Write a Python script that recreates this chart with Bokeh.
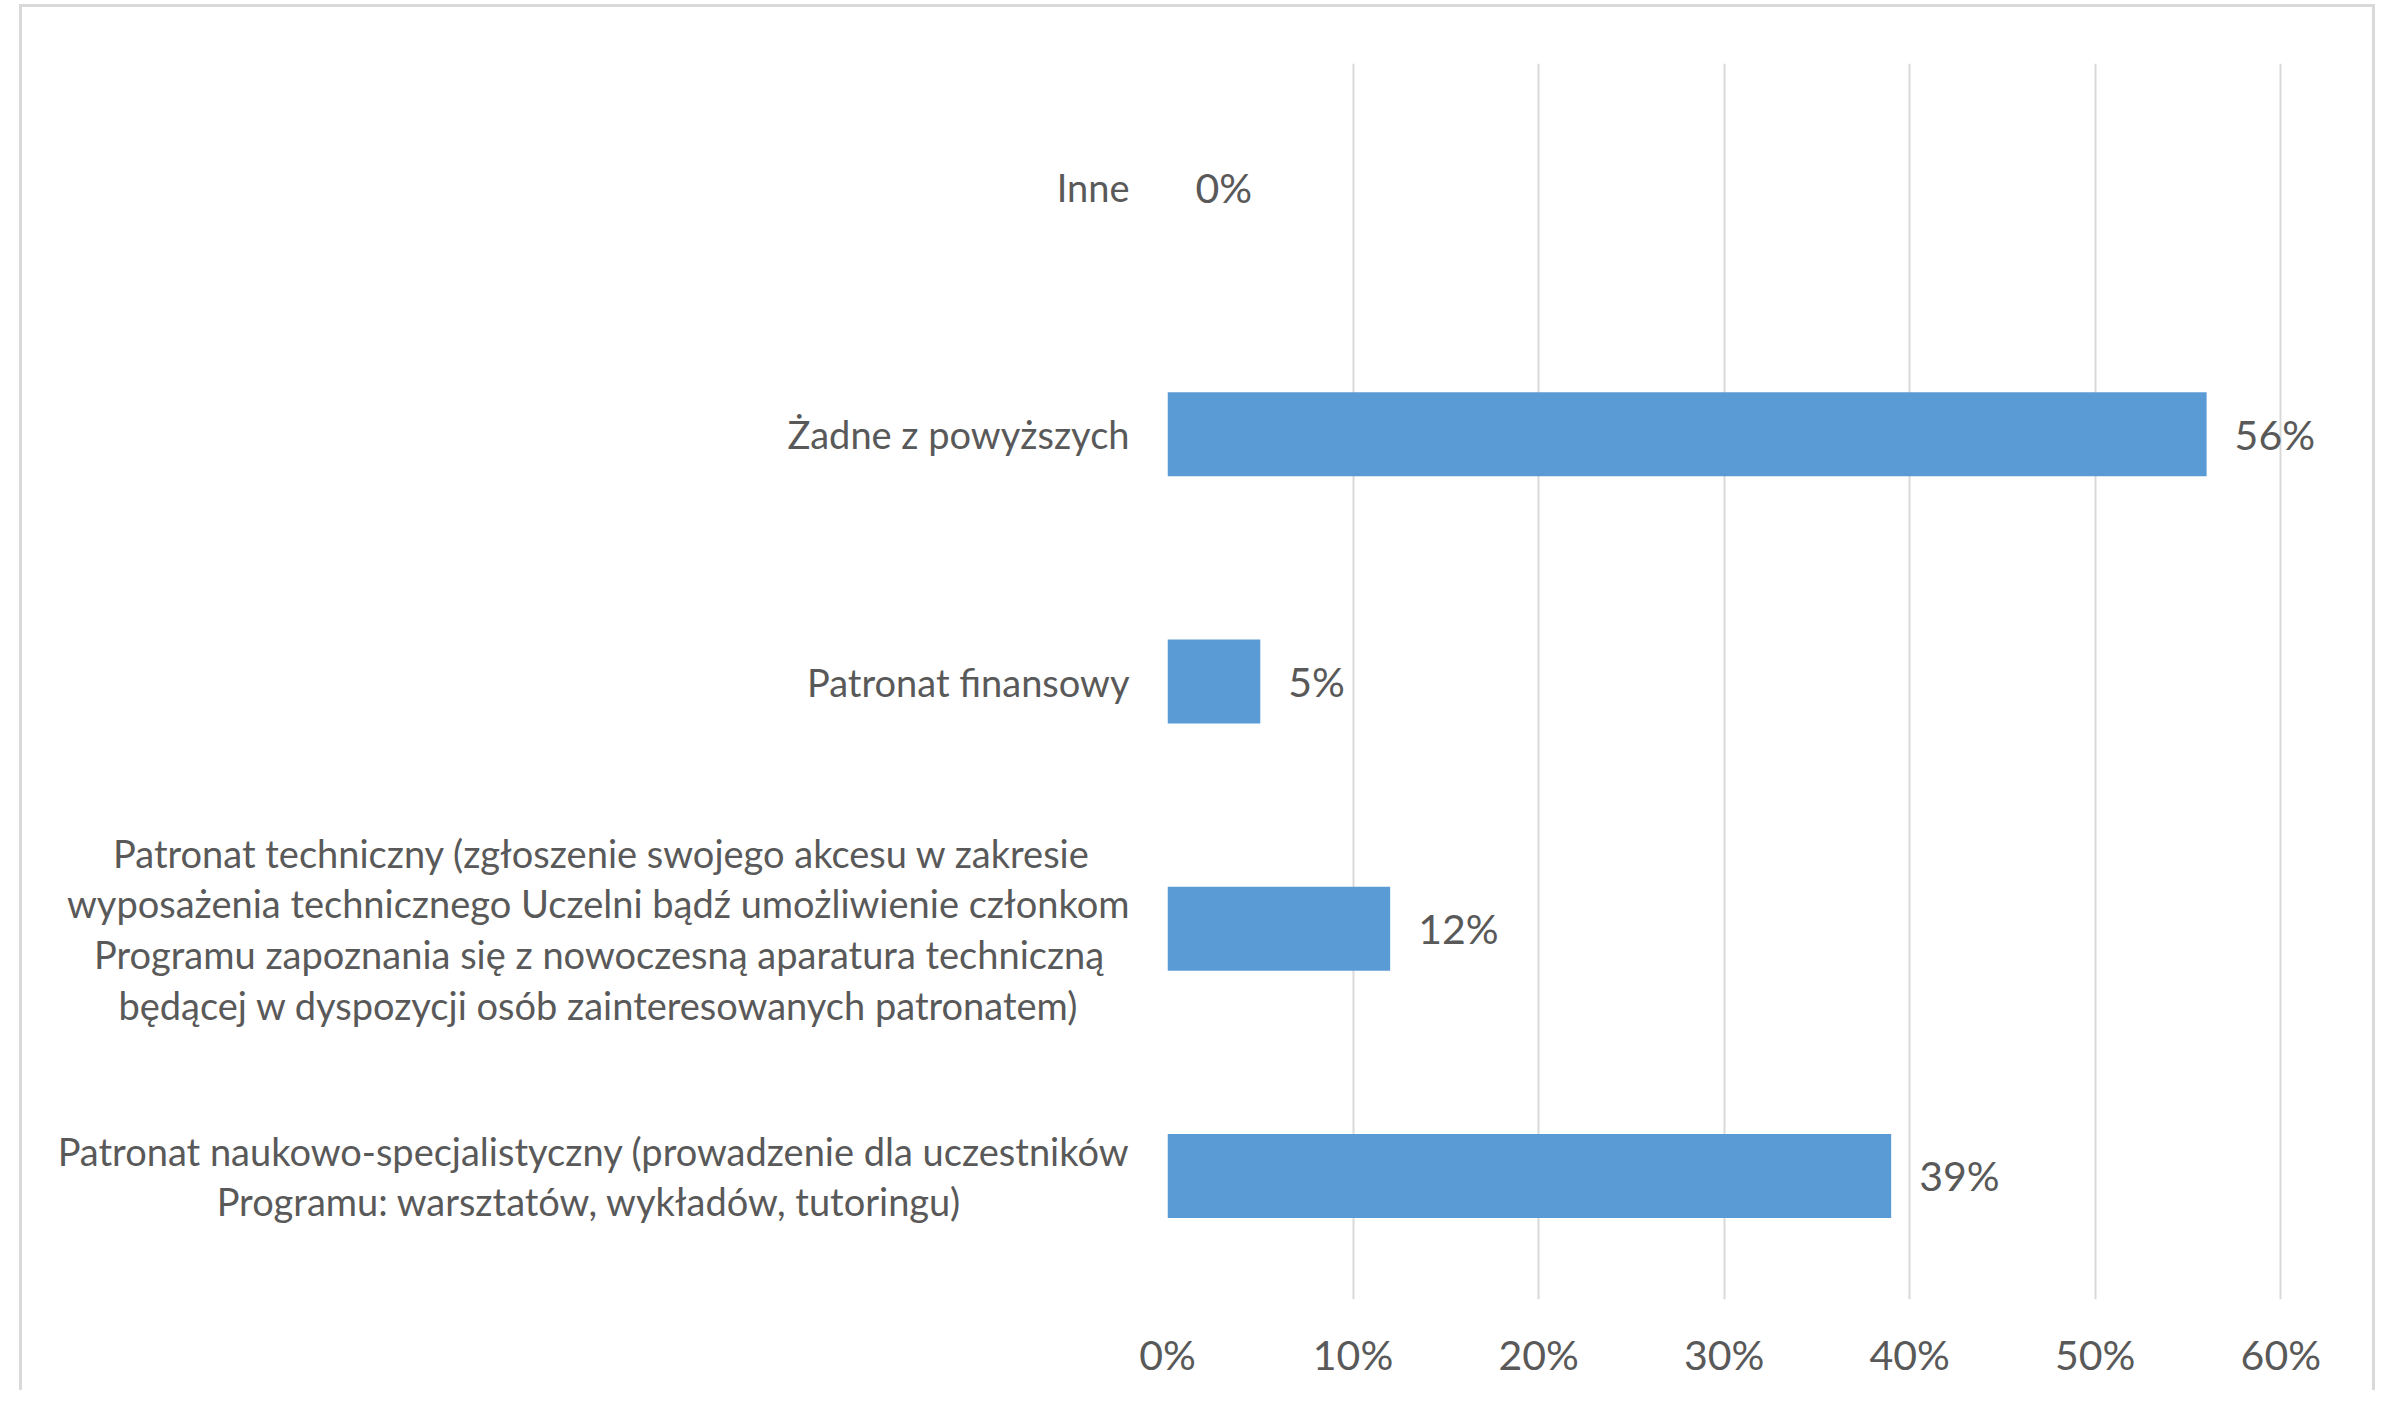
from bokeh.plotting import figure
from bokeh.models import FactorRange, Range1d, FixedTicker, NumeralTickFormatter, ColumnDataSource
from bokeh.core.properties import value
from bokeh.embed import file_html
from bokeh.resources import INLINE

EN, EM, P3, P4, P6 = "\u2002", "\u2003", "\u2004", "\u2005", "\u2006"

categories = [
    "Patronat naukowo-specjalistyczny (prowadzenie dla uczestników\nProgramu: warsztatów, wykładów, tutoringu)" + EM * 5 + P3 * 2,
    "Patronat  techniczny (zgłoszenie swojego akcesu w zakresie" + EN + P4
    + "\nwyposażenia technicznego Uczelni bądź umożliwienie członkom\nProgramu zapoznania się z nowoczesną aparatura techniczną" + EN + P6
    + "\nbędącej w dyspozycji osób zainteresowanych patronatem)" + EM + P3 + P4,
    "Patronat finansowy",
    "Żadne z powyższych",
    "Inne",
]
values = [0.39, 0.12, 0.05, 0.56, 0.0]
x_ticks = [0.0, 0.1, 0.2, 0.3, 0.4, 0.5, 0.6]

FONT = "Lato"
TXT = "#595959"

src = ColumnDataSource(dict(cat=categories, val=values,
                            lbl=[f"{round(v*100)}%" for v in values]))

p = figure(y_range=FactorRange(*categories), x_range=Range1d(0, 0.63),
           width=2356, height=1386, output_backend="svg", toolbar_location=None,
           min_border_left=1145, min_border_right=42, min_border_top=56, min_border_bottom=94)
p.margin = (4, 0, 0, 19)
p.styles = {"border-top": "3px solid #d9d9d9", "border-left": "3px solid #d9d9d9",
            "border-right": "3px solid #d9d9d9", "box-sizing": "border-box"}
p.outline_line_color = None

p.hbar(y="cat", right="val", height=0.34, source=src, color="#5b9bd5", line_color=None)
p.text(x="val", y="cat", text="lbl", source=src, x_offset=28,
       text_font=value(FONT), text_font_size="41px", text_color=TXT,
       text_baseline="middle", text_align="left")

p.xaxis.ticker = FixedTicker(ticks=x_ticks)
p.xaxis.formatter = NumeralTickFormatter(format="0%")
p.xaxis.axis_line_color = None
p.xaxis.major_tick_line_color = None
p.xaxis.minor_tick_line_color = None
p.xaxis.major_label_text_font = FONT
p.xaxis.major_label_text_font_size = "41px"
p.xaxis.major_label_text_color = TXT
p.xaxis.major_label_standoff = 24

p.yaxis.axis_line_color = None
p.yaxis.major_tick_line_color = None
p.yaxis.major_label_text_font = FONT
p.yaxis.major_label_text_font_size = "38px"
p.yaxis.major_label_text_color = TXT
p.yaxis.major_label_text_line_height = 1.1
p.yaxis.major_label_standoff = 32

p.xgrid.grid_line_color = "#d9d9d9"
p.xgrid.grid_line_width = 2
p.ygrid.grid_line_color = None

open("out.html", "w").write(file_html(p, INLINE))
